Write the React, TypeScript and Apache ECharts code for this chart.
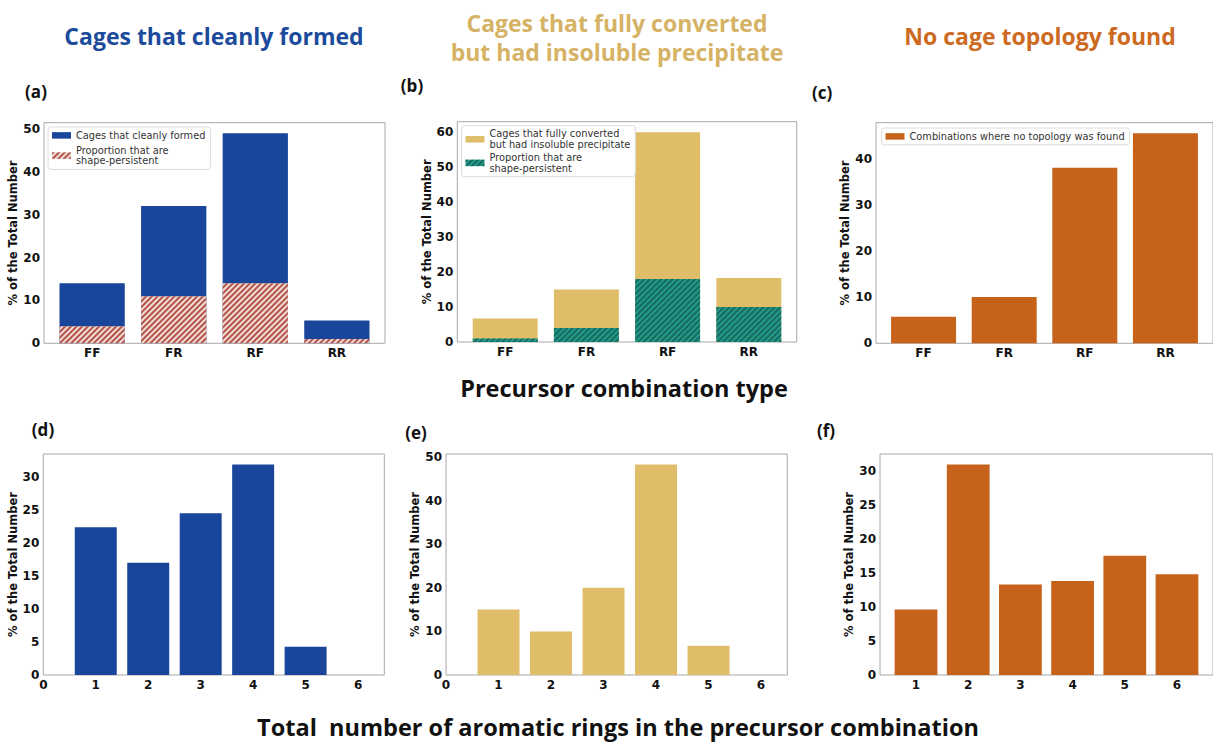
import React, { useEffect, useRef } from 'react';
import * as echarts from 'echarts';

// ---------- data ----------
const comboCategories = ['FF', 'FR', 'RF', 'RR'];
const cleanTotal = [14, 32, 49, 5.3];
const cleanShape = [4, 11, 14, 1];
const precipTotal = [6.7, 15, 60, 18.3];
const precipShape = [1, 4, 18, 10];
const noTopology = [5.8, 10.1, 38.2, 45.7];

const ringCounts = [1, 2, 3, 4, 5, 6];
const ringsClean = [22.4, 17, 24.5, 31.9, 4.3, 0];
const ringsPrecip = [15, 10, 20, 48.3, 6.7, 0];
const ringsNoTopology = [9.6, 30.9, 13.3, 13.8, 17.5, 14.8];

const comboTicks = [0, 1, 2, 3];
const ringTicksDE = [0, 1, 2, 3, 4, 5, 6];
const ringTicksF = [1, 2, 3, 4, 5, 6];
const yTicksA = [0, 10, 20, 30, 40, 50];
const yTicksB = [0, 10, 20, 30, 40, 50, 60];
const yTicksC = [0, 10, 20, 30, 40];
const yTicksD = [0, 5, 10, 15, 20, 25, 30];
const yTicksE = [0, 10, 20, 30, 40, 50];
const yTicksF = [0, 5, 10, 15, 20, 25, 30];

const legendLabels: Record<string, string> = {
  aClean: 'Cages that cleanly formed',
  aShape: 'Proportion that are\nshape-persistent',
  bPrecip: 'Cages that fully converted\nbut had insoluble precipitate',
  bShape: 'Proportion that are\nshape-persistent',
  cNone: 'Combinations where no topology was found',
};

// ---------- styles ----------
const BLUE = '#19459a';
const TAN = '#e0be69';
const ORANGE = '#c6621a';
const TEAL = '#239a89';

const panels = [
  { left: 44, top: 122.7, width: 341, height: 220.6, xMin: -0.59, xMax: 3.59, xTicks: comboTicks, cat: true, yMax: 51.45, yTicks: yTicksA },
  { left: 457.3, top: 121.7, width: 339.4, height: 220.3, xMin: -0.59, xMax: 3.59, xTicks: comboTicks, cat: true, yMax: 63, yTicks: yTicksB },
  { left: 876, top: 122.7, width: 339.6, height: 220.6, xMin: -0.59, xMax: 3.59, xTicks: comboTicks, cat: true, yMax: 48, yTicks: yTicksC },
  { left: 43.3, top: 454, width: 341, height: 221, xMin: 0, xMax: 6.5, xTicks: ringTicksDE, cat: false, yMax: 33.5, yTicks: yTicksD },
  { left: 446, top: 454, width: 341.3, height: 221, xMin: 0, xMax: 6.5, xTicks: ringTicksDE, cat: false, yMax: 50.7, yTicks: yTicksE },
  { left: 880, top: 454, width: 341, height: 221, xMin: 0.31, xMax: 6.69, xTicks: ringTicksF, cat: false, yMax: 32.45, yTicks: yTicksF },
];

const tickFont = { fontFamily: 'DejaVu Sans', fontWeight: 'bold' as const, fontSize: 12, color: '#111' };

function bw(i: number) {
  const p = panels[i];
  return (0.8 * p.width) / (p.xMax - p.xMin);
}

const redHatch = {
  symbol: 'rect',
  symbolSize: 1,
  dashArrayX: [1, 0],
  dashArrayY: [1.2, 1.6],
  rotation: -Math.PI / 4,
  color: '#b25448',
};
const tealHatch = {
  symbol: 'rect',
  symbolSize: 1,
  dashArrayX: [1, 0],
  dashArrayY: [1.2, 1.6],
  rotation: -Math.PI / 4,
  color: 'rgba(10,60,52,0.5)',
};

function comboData(vals: number[]) {
  return vals.map((v, i) => [i, v]);
}
function ringData(vals: number[]) {
  return vals.map((v, i) => [ringCounts[i], v]);
}

function legendBox(left: number, top: number, data: string[], itemGap: number) {
  return {
    left,
    top,
    orient: 'vertical',
    data,
    formatter: (n: string) => legendLabels[n],
    itemWidth: 19,
    itemHeight: 6.5,
    itemGap,
    itemStyle: { borderWidth: 0 },
    textStyle: { fontFamily: 'DejaVu Sans', fontSize: 9.8, color: '#333', lineHeight: 10.8 },
    backgroundColor: '#fff',
    borderColor: '#dcdcdc',
    borderWidth: 1,
    borderRadius: 3,
    padding: [3, 5, 3, 4],
    selectedMode: false,
    icon: 'rect',
  };
}

function titleText(text: string, x: number, y: number, color: string, size: number, scaleX = 1) {
  return {
    type: 'text',
    x,
    y,
    scaleX,
    style: {
      text,
      fill: color,
      font: `bold ${size}px "Open Sans"`,
      textAlign: 'center',
      textVerticalAlign: 'middle',
      lineHeight: 29,
    },
  };
}

export default function App() {
  const ref = useRef<HTMLDivElement>(null);
  useEffect(() => {
    if (!ref.current) return;
    const chart = echarts.init(ref.current, undefined, { renderer: 'svg' });

    const grid = panels.map((p) => ({
      left: p.left,
      top: p.top,
      width: p.width,
      height: p.height,
      show: true,
      borderColor: '#a8a8a8',
      borderWidth: 1,
      backgroundColor: '#fff',
      containLabel: false,
    }));

    const xAxis = panels.map((p, i) => ({
      type: 'value',
      gridIndex: i,
      min: p.xMin,
      max: p.xMax,
      axisLine: { show: false },
      axisTick: { show: false, customValues: p.xTicks },
      splitLine: { show: false },
      axisLabel: {
        ...tickFont,
        margin: 4,
        customValues: p.xTicks,
        formatter: (v: number) => (p.cat ? comboCategories[Math.round(v)] : String(v)),
      },
    }));

    const yAxis = panels.map((p, i) => ({
      type: 'value',
      gridIndex: i,
      min: 0,
      max: p.yMax,
      name: '% of the Total Number',
      nameLocation: 'middle',
      nameRotate: 90,
      nameGap: 21,
      nameTextStyle: { fontFamily: 'DejaVu Sans', fontWeight: 'bold', fontSize: 11.5, color: '#111' },
      axisLine: { show: false },
      axisTick: { show: false, customValues: p.yTicks },
      splitLine: { show: false },
      axisLabel: { ...tickFont, margin: 4, customValues: p.yTicks },
    }));

    const series: any[] = [
      { name: 'aClean', type: 'bar', xAxisIndex: 0, yAxisIndex: 0, data: comboData(cleanTotal), barWidth: bw(0), barGap: '-100%', itemStyle: { color: BLUE } },
      { name: 'aShape', type: 'bar', xAxisIndex: 0, yAxisIndex: 0, data: comboData(cleanShape), barWidth: bw(0), barGap: '-100%', itemStyle: { color: '#f3dcd8', decal: redHatch } },
      { name: 'bPrecip', type: 'bar', xAxisIndex: 1, yAxisIndex: 1, data: comboData(precipTotal), barWidth: bw(1), barGap: '-100%', itemStyle: { color: TAN } },
      { name: 'bShape', type: 'bar', xAxisIndex: 1, yAxisIndex: 1, data: comboData(precipShape), barWidth: bw(1), barGap: '-100%', itemStyle: { color: TEAL, decal: tealHatch } },
      { name: 'cNone', type: 'bar', xAxisIndex: 2, yAxisIndex: 2, data: comboData(noTopology), barWidth: bw(2), itemStyle: { color: ORANGE } },
      { name: 'dRings', type: 'bar', xAxisIndex: 3, yAxisIndex: 3, data: ringData(ringsClean), barWidth: bw(3), itemStyle: { color: BLUE } },
      { name: 'eRings', type: 'bar', xAxisIndex: 4, yAxisIndex: 4, data: ringData(ringsPrecip), barWidth: bw(4), itemStyle: { color: TAN } },
      { name: 'fRings', type: 'bar', xAxisIndex: 5, yAxisIndex: 5, data: ringData(ringsNoTopology), barWidth: bw(5), itemStyle: { color: ORANGE } },
    ];

    const graphic = [
      titleText('Cages that cleanly formed', 214, 36, '#1c4b9c', 23),
      titleText('Cages that fully converted\nbut had insoluble precipitate', 617, 37, '#d6b264', 23),
      titleText('No cage topology found', 1040, 36, '#cc6a22', 23),
      titleText('Precursor combination type', 624, 388, '#111', 23.5),
      titleText('Total  number of aromatic rings in the precursor combination', 618, 727, '#111', 24, 0.98),
      titleText('(a)', 36, 91, '#111', 17),
      titleText('(b)', 412, 85, '#111', 17),
      titleText('(c)', 822, 92, '#111', 17),
      titleText('(d)', 43, 429, '#111', 17),
      titleText('(e)', 416, 432, '#111', 17),
      titleText('(f)', 826, 430, '#111', 17),
    ];

    chart.setOption({
      animation: false,
      backgroundColor: '#fff',
      grid,
      xAxis,
      yAxis,
      series,
      legend: [
        legendBox(48, 127, ['aClean', 'aShape'], 4),
        legendBox(461.5, 125.5, ['bPrecip', 'bShape'], 2),
        legendBox(881.5, 128, ['cNone'], 4),
      ],
      graphic,
    });
    return () => chart.dispose();
  }, []);
  return <div ref={ref} style={{ position: 'fixed', left: 0, top: 0, width: 1213, height: 747 }} />;
}
